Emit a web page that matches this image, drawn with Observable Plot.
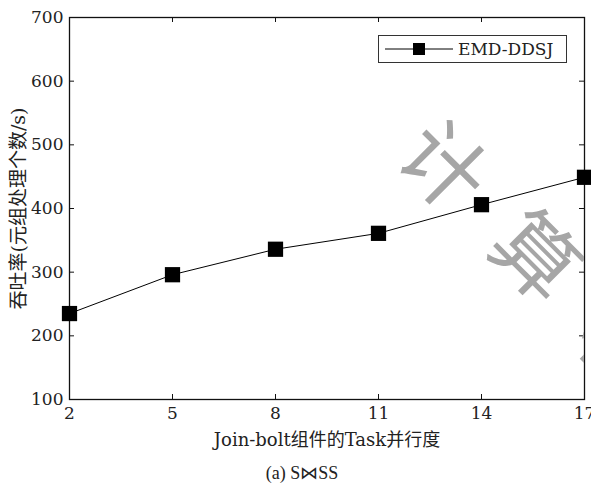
<!DOCTYPE html>
<html><head><meta charset="utf-8">
<script src="https://cdn.jsdelivr.net/npm/d3@7"></script>
<script src="https://cdn.jsdelivr.net/npm/@observablehq/plot@0.6"></script>
<style>
body{margin:0;background:#fff;}
#wrap{position:relative;width:591px;height:487px;overflow:hidden;font-family:"DejaVu Serif","Noto Sans CJK SC",serif;}
#cap{position:absolute;left:0;width:604px;top:462px;text-align:center;font-size:18px;color:#222;font-family:"Liberation Serif","DejaVu Serif",serif;}
#legend{position:absolute;left:378px;top:35px;width:189px;height:28px;box-sizing:border-box;border:1px solid #333;background:#fff;}
#wm{position:absolute;left:69px;top:17px;pointer-events:none;}
</style></head>
<body><div id="wrap"><div id="chart"></div><div id="legend"></div><div id="cap">(a) S⋈SS</div></div>
<script>
const parallelism = [2, 5, 8, 11, 14, 17];
const throughput = [235, 296, 336, 361, 406, 449];
const xTicks = [2, 5, 8, 11, 14, 17];
const yTicks = [100, 200, 300, 400, 500, 600, 700];
const seriesName = "EMD-DDSJ";
const xLabel = "Join-bolt组件的Task并行度";
const yLabel = "吞吐率(元组处理个数/s)";

const data = parallelism.map((x, i) => ({x, y: throughput[i]}));
const H = 450, mT = 17, mB = 51, innerH = H - mT - mB;
const mL = 69, mR = 7, innerW = 591 - mL - mR;
const font = '"DejaVu Serif","Noto Sans CJK SC",serif';

// watermark (behind plot lines, clipped to plot area)
const wm = d3.select("#wrap").insert("svg", "#legend").attr("id", "wm").attr("width", innerW).attr("height", innerH);
const wmChars = [["计", 448 - mL, 162 - mT], ["算", 540 - mL, 252 - mT], ["机", 627 - mL, 345 - mT]];
wm.selectAll("text").data(wmChars).join("text")
  .attr("transform", d => `translate(${d[1]},${d[2]}) rotate(45)`)
  .attr("text-anchor", "middle").attr("dominant-baseline", "central")
  .attr("font-size", 84).attr("font-family", "Noto Sans CJK SC").attr("font-weight", 400)
  .attr("fill", "#a6a6a6").text(d => d[0]);

const chart = Plot.plot({
  width: 591, height: H,
  marginLeft: mL, marginRight: mR, marginTop: mT, marginBottom: mB,
  style: {fontFamily: font, fontSize: "17px", color: "#222", background: "transparent", overflow: "visible", position: "absolute", left: "0", top: "0"},
  x: {domain: [2, 17]},
  y: {domain: [100, 700]},
  marks: [
    Plot.axisX({ticks: xTicks, tickSize: 0, tickPadding: 7, label: null, tickFormat: d => d}),
    Plot.axisY({ticks: yTicks, tickSize: 0, tickPadding: 6, label: null, tickFormat: d => d}),
    // inward ticks
    Plot.ruleX(xTicks, {x: d => d, insetTop: innerH - 5, stroke: "#111"}),
    Plot.ruleX(xTicks, {x: d => d, insetBottom: innerH - 5, stroke: "#111"}),
    Plot.ruleY(yTicks, {y: d => d, insetRight: innerW - 5, stroke: "#111"}),
    Plot.ruleY(yTicks, {y: d => d, insetLeft: innerW - 5, stroke: "#111"}),
    Plot.frame({stroke: "#111", strokeWidth: 1.3}),
    Plot.line(data, {x: "x", y: "y", stroke: "#000", strokeWidth: 1}),
    Plot.dot(data, {x: "x", y: "y", symbol: "square", r: 8.6, fill: "#000", stroke: "none"}),
    Plot.text([xLabel], {frameAnchor: "bottom", lineAnchor: "middle", textAnchor: "middle", dy: 41, fontSize: 18, fill: "#222"}),
    Plot.text([yLabel], {frameAnchor: "left", textAnchor: "middle", lineAnchor: "middle", dx: -51, rotate: -90, fontSize: 19, fill: "#222"})
  ]
});
d3.select(chart).selectAll("g[aria-label$='tick label']").attr("font-size", 17).style("font-size", "17px");
document.getElementById("chart").appendChild(chart);

// legend
const lg = d3.select("#legend").append("svg").attr("width", 187).attr("height", 26);
lg.append("line").attr("x1", 6).attr("x2", 74).attr("y1", 13).attr("y2", 13).attr("stroke", "#000");
lg.append("rect").attr("x", 34).attr("y", 7).attr("width", 12).attr("height", 12).attr("fill", "#000");
lg.append("text").attr("x", 79).attr("y", 19).attr("font-size", 17).attr("fill", "#222")
  .style("font-family", font).text(seriesName);
</script></body></html>
